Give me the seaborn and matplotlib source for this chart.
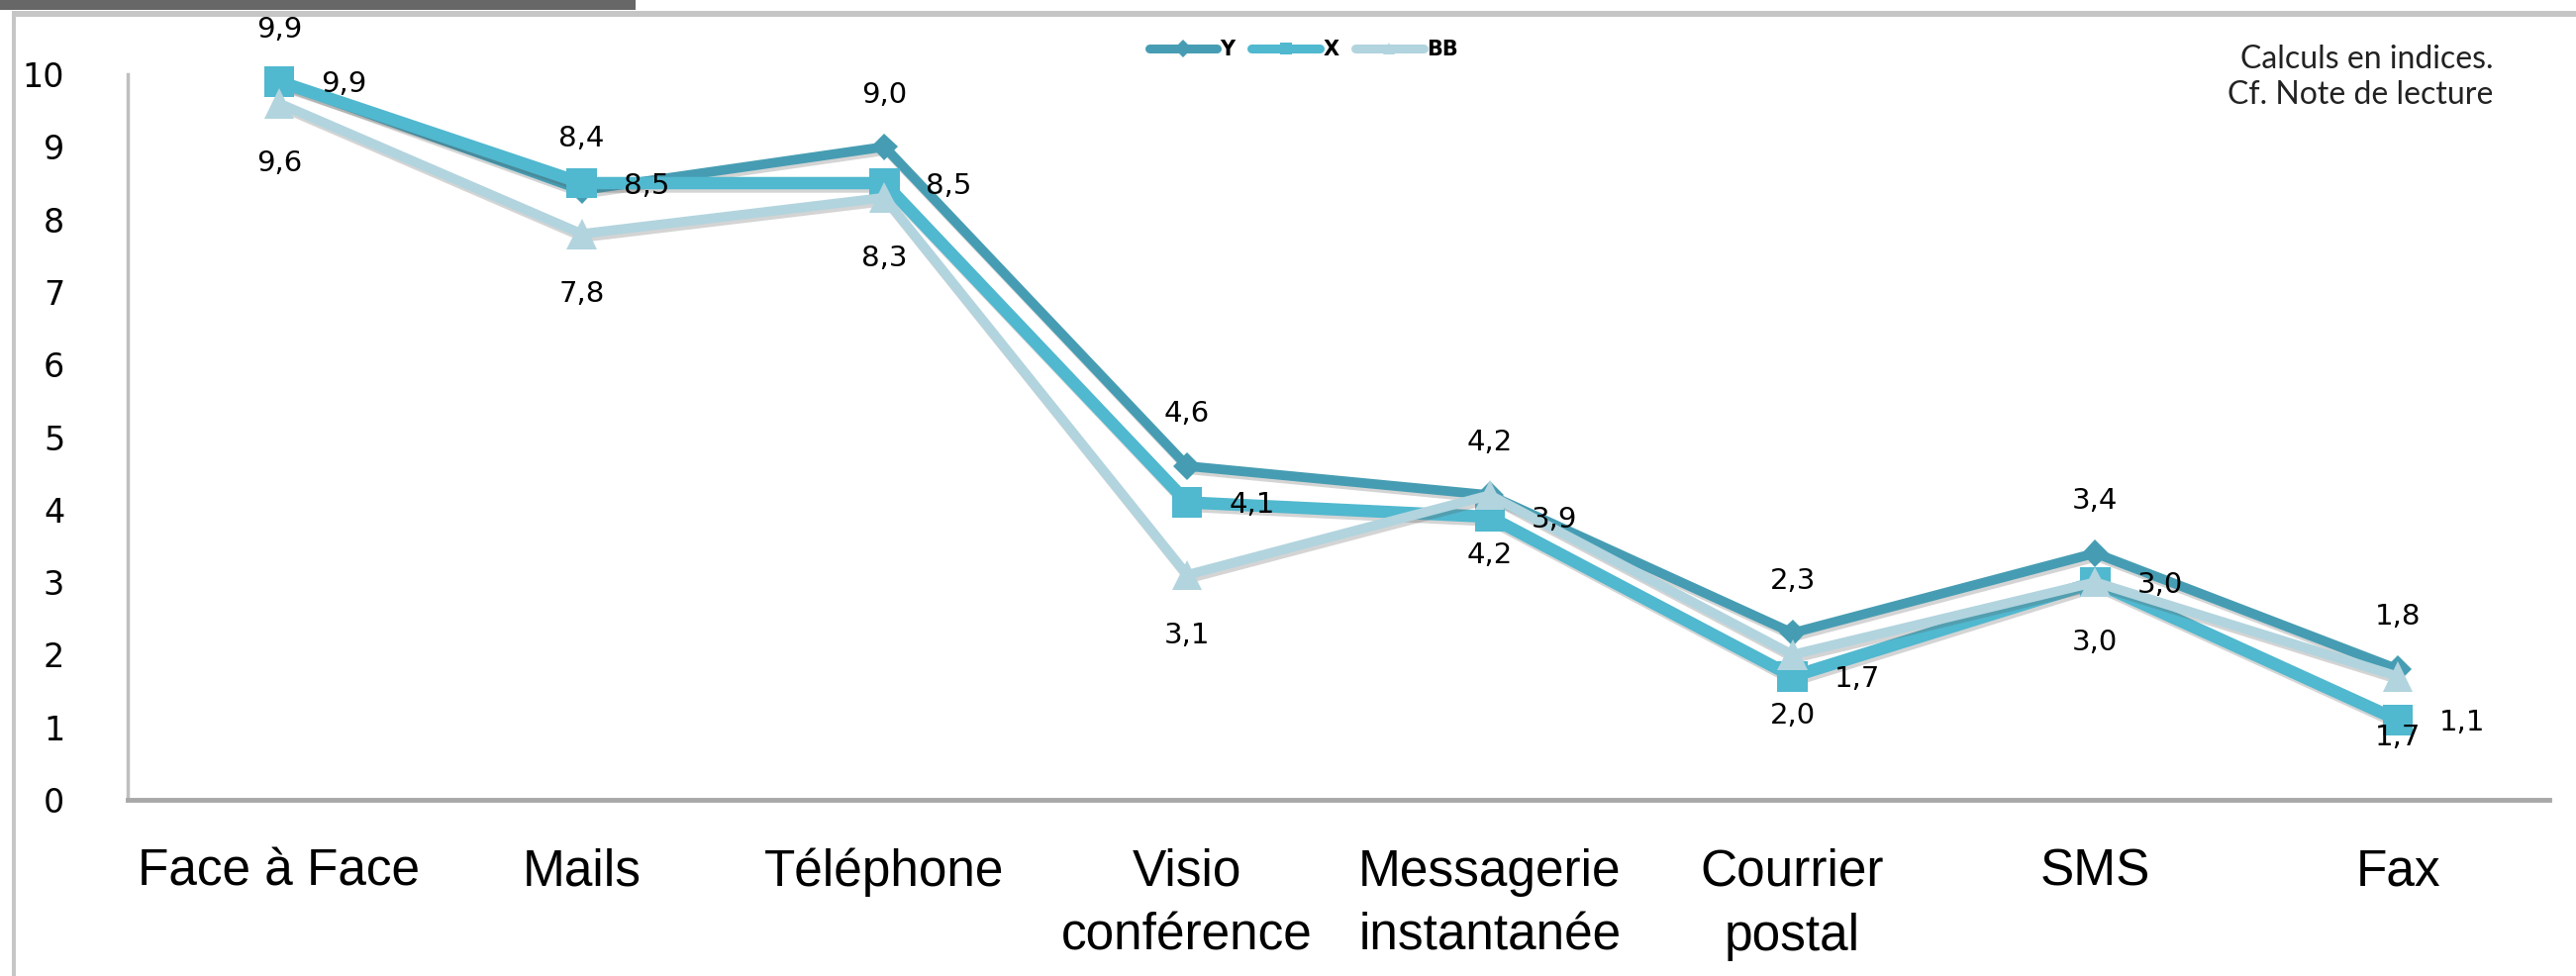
import numpy as np
import matplotlib.pyplot as plt
import matplotlib.patheffects as pe
from matplotlib.lines import Line2D
from matplotlib.patches import Rectangle
import seaborn as sns

# Données
categories = ['Face à Face', 'Mails', 'Téléphone', 'Visio\nconférence',
              'Messagerie\ninstantanée', 'Courrier\npostal', 'SMS', 'Fax']
y_vals = [9.9, 8.4, 9.0, 4.6, 4.2, 2.3, 3.4, 1.8]
x_vals = [9.9, 8.5, 8.5, 4.1, 3.9, 1.7, 3.0, 1.1]
bb_vals = [9.6, 7.8, 8.3, 3.1, 4.2, 2.0, 3.0, 1.7]
y_ticks = list(range(0, 11))
series_names = ['Y', 'X', 'BB']

sns.set_style('white')
plt.rcParams['font.family'] = ['DejaVu Sans']
plt.rcParams['text.color'] = 'black'

# style par série: couleur, marqueur, taille, épaisseur, position du label
styles = {
    'Y':  dict(color='#469db3', marker='D', ms=14, lw=7, off=(0, 38)),
    'X':  dict(color='#50b8cf', marker='s', ms=22, lw=9, off=(47, -2)),
    'BB': dict(color='#b2d4de', marker='^', ms=22, lw=7, off=(0, -44)),
}
values = {'Y': y_vals, 'X': x_vals, 'BB': bb_vals}

fig = plt.figure(figsize=(26.02, 9.86), dpi=100)
ax = fig.add_axes([0.0496, 0.1805, 0.94, 0.7434])
pos = np.arange(len(categories))

shadow = [pe.SimpleLineShadow(offset=(1.5, -2.5), shadow_color='#555555', alpha=0.25), pe.Normal()]

for name in series_names:
    st = styles[name]
    sns.lineplot(x=pos, y=values[name], ax=ax, color=st['color'], marker=st['marker'],
                 markersize=st['ms'], linewidth=st['lw'], markeredgewidth=0,
                 legend=False, clip_on=False, path_effects=shadow)

# labels de données
for name in series_names:
    st = styles[name]
    for i, v in enumerate(values[name]):
        ax.annotate(f'{v:.1f}'.replace('.', ','), (pos[i], v), xytext=st['off'],
                    textcoords='offset points', ha='center', va='center',
                    fontsize=21, color='black', annotation_clip=False)

ax.set_xlim(-0.5, 7.5)
ax.set_ylim(0, 10)
ax.set_yticks(y_ticks)
ax.set_yticklabels([str(t) for t in y_ticks], fontsize=24)
ax.tick_params(axis='y', length=9, width=2.5, color='#bfbfbf', pad=37, labelcolor='black')

ax.set_xticks(pos)
ax.set_xticklabels(categories, fontsize=37, family='Liberation Sans', linespacing=1.42)
ax.tick_params(axis='x', which='major', length=0, pad=35, labelcolor='black')
ax.set_xticks(np.arange(-0.5, 8, 1), minor=True)
ax.tick_params(axis='x', which='minor', length=14, width=2, color='#cfcfcf')

for side in ['top', 'right']:
    ax.spines[side].set_visible(False)
ax.spines['left'].set_color('#bfbfbf')
ax.spines['left'].set_linewidth(2.5)
ax.spines['bottom'].set_color('#a8a8a8')
ax.spines['bottom'].set_linewidth(3.5)
ax.grid(False)

# légende
handles = [Line2D([0], [0], color=styles[n]['color'], lw=6.5, marker=styles[n]['marker'],
                  ms=9, markeredgewidth=0) for n in series_names]
fig.legend(handles, series_names, loc='center', bbox_to_anchor=(0.506, 0.949), ncol=3,
           frameon=False, handlelength=3.3, handletextpad=0.15,
           columnspacing=0.8, prop={'size': 15, 'weight': 'bold'})

# note en haut à droite
fig.text(0.968, 0.921, 'Calculs en indices.\nCf. Note de lecture', ha='right', va='center',
         fontsize=23, family='Lato', color='#222222', linespacing=1.25, multialignment='right')

# cadre
fig.add_artist(Rectangle((0, 1 - 10 / 986), 642 / 2602, 10 / 986, transform=fig.transFigure,
                         color='#676767', lw=0))
fig.add_artist(Rectangle((12 / 2602, 1 - 17 / 986), 1, 6 / 986, transform=fig.transFigure,
                         color='#c6c6c6', lw=0))
fig.add_artist(Rectangle((12 / 2602, 0), 4 / 2602, 1 - 11 / 986, transform=fig.transFigure,
                         color='#c6c6c6', lw=0))

plt.savefig('out.png', dpi=100, facecolor='white')
